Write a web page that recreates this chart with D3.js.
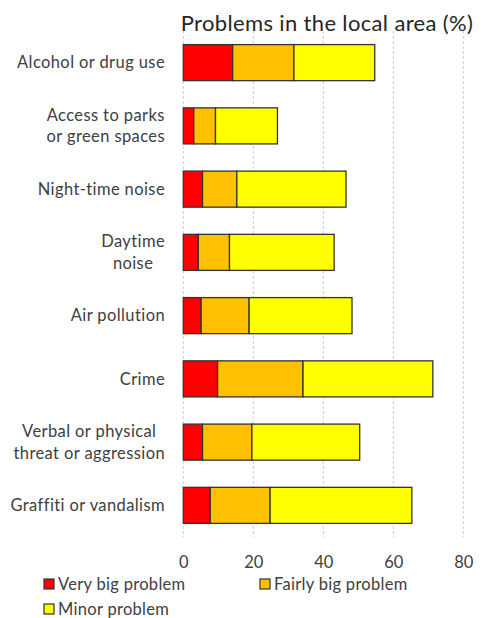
<!DOCTYPE html>
<html>
<head>
<meta charset="utf-8">
<script src="https://cdn.jsdelivr.net/npm/d3@7"></script>
<style>
  html, body { margin: 0; padding: 0; background: #fff; }
  svg { display: block; font-family: Lato, "Liberation Sans", sans-serif; }
</style>
</head>
<body>
<svg id="chart" width="483" height="618"></svg>
<script>
// ---- data ----
const categories = [
  "Alcohol or drug use",
  "Access to parks|or green spaces",
  "Night-time noise",
  "Daytime|noise",
  "Air pollution",
  "Crime",
  "Verbal or physical|threat or aggression",
  "Graffiti or vandalism"
];
const veryBig   = [14.1, 3.0, 5.5, 4.3, 5.1, 9.8, 5.5, 7.7];
const fairlyBig = [17.5, 6.2, 9.8, 8.9, 13.7, 24.4, 14.1, 17.1];
const minor     = [23.1, 17.7, 31.2, 29.9, 29.4, 37.1, 30.8, 40.5];
const seriesNames = ["Very big problem", "Fairly big problem", "Minor problem"];
const seriesColors = ["#FF0000", "#FFC000", "#FFFF00"];
const xTicks = [0, 20, 40, 60, 80];
const title = "Problems in the local area (%)";

// ---- build ----
const svg = d3.select("#chart");
const textColor = "#404040";

const x = d3.scaleLinear().domain([0, 80]).range([183.3, 463.3]);
const y = d3.scaleBand().domain(categories).range([31, 537])
  .paddingInner(0.43).paddingOuter(0.215);

const table = categories.map((c, i) => ({cat: c, s0: veryBig[i], s1: fairlyBig[i], s2: minor[i]}));
const stack = d3.stack().keys(["s0", "s1", "s2"])(table);

// gridlines
svg.append("g").selectAll("line").data(xTicks).join("line")
  .attr("x1", d => x(d)).attr("x2", d => x(d))
  .attr("y1", 31).attr("y2", 537)
  .attr("stroke", "#d0d0d0").attr("stroke-width", 1)
  .attr("stroke-dasharray", "3,2");

// bars
svg.append("g").selectAll("g").data(stack).join("g")
  .attr("fill", (d, i) => seriesColors[i])
  .selectAll("rect").data(d => d).join("rect")
  .attr("x", d => x(d[0]))
  .attr("y", d => y(d.data.cat))
  .attr("width", d => x(d[1]) - x(d[0]))
  .attr("height", y.bandwidth())
  .attr("stroke", "#333")
  .attr("stroke-width", 1.3);

// x tick labels
const xAxis = d3.axisBottom(x).tickValues(xTicks).tickSize(0).tickPadding(0);
const gx = svg.append("g").attr("transform", "translate(0,556)").call(xAxis);
gx.select(".domain").remove();
gx.selectAll("text").attr("font-size", 16.5).attr("fill", textColor)
  .attr("font-family", "Lato, sans-serif").attr("dy", "0.71em");

// category labels
const labelRight = 165;
const labelG = svg.append("g");
categories.forEach(c => {
  const lines = c.split("|");
  const cy = y(c) + y.bandwidth() / 2;
  const lh = 21.5;
  const g = labelG.append("g");
  const texts = lines.map((ln, j) => g.append("text")
    .attr("y", cy + (j - (lines.length - 1) / 2) * lh)
    .attr("dy", "0.35em")
    .attr("font-size", 16.5)
    .attr("letter-spacing", "0.4px")
    .attr("fill", textColor)
    .attr("text-anchor", "middle")
    .text(ln));
  const maxW = d3.max(texts, t => t.node().getComputedTextLength());
  texts.forEach(t => t.attr("x", labelRight - maxW / 2));
});

// title
svg.append("text")
  .attr("x", 327).attr("y", 31)
  .attr("text-anchor", "middle")
  .attr("font-size", 22)
  .attr("letter-spacing", "0.35px")
  .attr("fill", "#262626")
  .text(title);

// legend
const legendPos = [[44, 584], [260, 584], [44, 609]];
const lg = svg.append("g");
seriesNames.forEach((n, i) => {
  const [lx, ly] = legendPos[i];
  lg.append("rect").attr("x", lx).attr("y", ly - 5).attr("width", 10).attr("height", 10)
    .attr("fill", seriesColors[i]).attr("stroke", "#333").attr("stroke-width", 1.2);
  lg.append("text").attr("x", lx + 14).attr("y", ly).attr("dy", "0.35em")
    .attr("font-size", 16.5).attr("letter-spacing", "0.3px")
    .attr("fill", textColor).text(n);
});
</script>
</body>
</html>
